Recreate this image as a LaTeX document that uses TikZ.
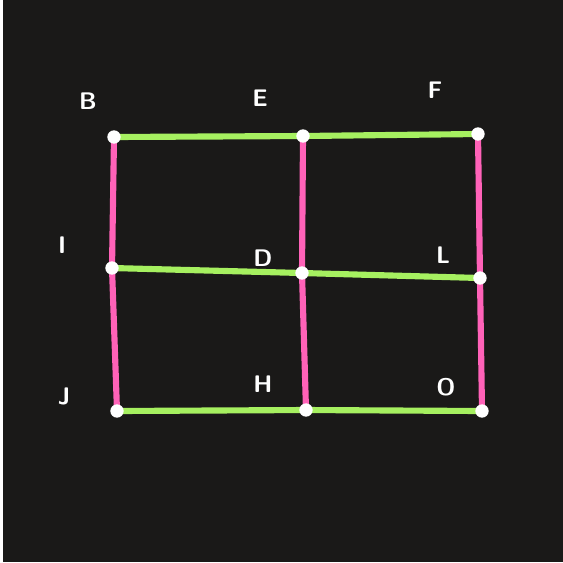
\documentclass[tikz,border=0pt]{standalone}
\usepackage{tikz}
\usetikzlibrary{positioning}

\definecolor{boardbg}{HTML}{1A1918}
\definecolor{rowgreen}{HTML}{A6F060}
\definecolor{colpink}{HTML}{FF62B8}

\begin{document}
\begin{tikzpicture}[x=0.75pt, y=-0.75pt,
  rowline/.style={rowgreen, line width=4.6pt},
  colline/.style={colpink, line width=4.6pt},
  lbl/.style={white, font=\sffamily\bfseries\fontsize{18}{20}\selectfont}]
  \fill[white] (0,0) rectangle (3,562);
  \fill[boardbg] (3,0) rectangle (563,562);
  \useasboundingbox (0,0) rectangle (563,562);

  % points of the grid
  \coordinate (B) at (114,137);
  \coordinate (E) at (303,136);
  \coordinate (F) at (478,134);
  \coordinate (I) at (112,268);
  \coordinate (D) at (302,273);
  \coordinate (L) at (480,278);
  \coordinate (J) at (117,411);
  \coordinate (H) at (306,410);
  \coordinate (O) at (482,411);

  % rows
  \draw[rowline] (B) -- (E) -- (F);
  \draw[rowline] (I) -- (D) -- (L);
  \draw[rowline] (J) -- (H) -- (O);

  % columns
  \draw[colline] (B) -- (I) -- (J);
  \draw[colline] (E) -- (D) -- (H);
  \draw[colline] (F) -- (L) -- (O);

  \foreach \p in {B,E,F,I,D,L,J,H,O} {
    \fill[white] (\p) circle (5pt);
  }

  % labels
  \node[lbl] (tB) at (88,101) {B};
  \node[lbl] (tE) at (260,98) {E};
  \node[lbl] (tF) at (435,90) {F};
  \node[lbl] (tI) at (62,245) {I};
  \node[lbl] (tD) at (263,258) {D};
  \node[lbl] (tL) at (443,255) {L};
  \node[lbl] (tJ) at (64,396) {J};
  \node[lbl] (tH) at (263,384) {H};
  \node[lbl] (tO) at (446,387) {O};
\end{tikzpicture}
\end{document}
